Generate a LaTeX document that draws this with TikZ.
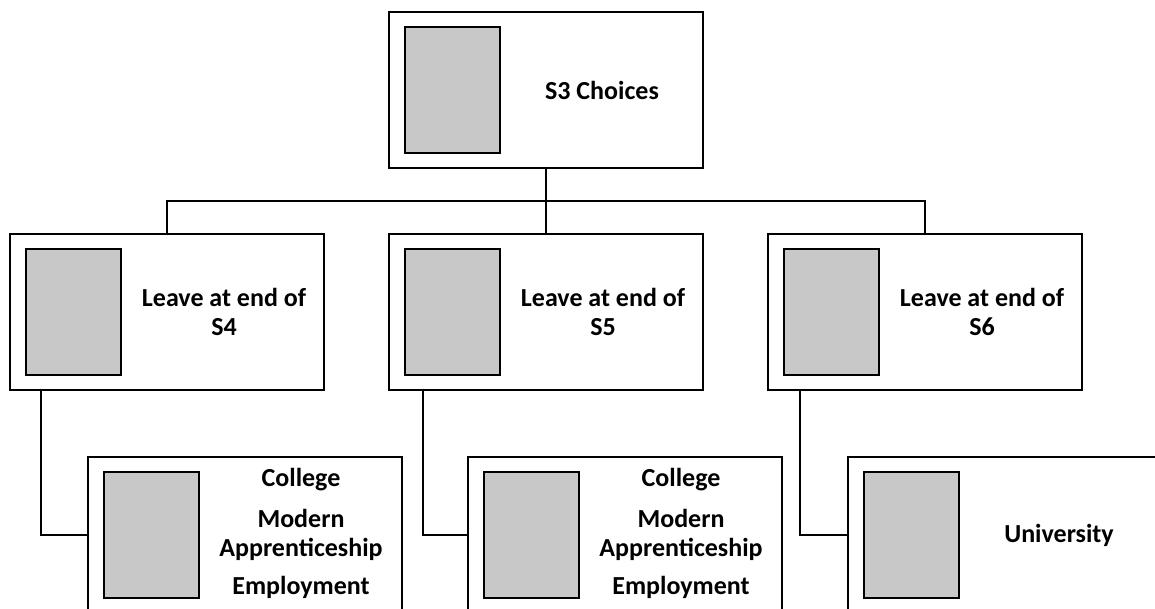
\documentclass[tikz,border=0pt]{standalone}
\usepackage{fontspec}
\setmainfont{Carlito}
\usetikzlibrary{positioning,calc}
\definecolor{photogrey}{RGB}{200,200,200}

\begin{document}
\begin{tikzpicture}[x=1pt, y=-1pt, line width=2pt,
    box/.style={draw, minimum width=314pt, minimum height=156pt, inner sep=0pt},
    photo/.style={draw, fill=photogrey, minimum width=95pt, minimum height=126pt, inner sep=0pt},
    boxtext/.style={font=\bfseries\fontsize{26}{29}\selectfont, align=center, inner sep=0pt}]
        \useasboundingbox (0,0) rectangle (1155,609);
        \clip (0,0) rectangle (1155,609);

        % S3 (top)
        \node[box] (s3) at (546,90) {};
        \node[photo, right=16pt of s3.west] (s3photo) {};
        \node[boxtext] (s3text) at ($(s3.west)+(214,0)$) {S3 Choices};

        % leave after S4, S5, S6 (middle row)
        \node[box] (s4) at (167,312) {};
        \node[photo, right=16pt of s4.west] (s4photo) {};
        \node[boxtext] (s4text) at ($(s4.west)+(215,0)$) {Leave at end of\\S4};

        \node[box] (s5) at (546,312) {};
        \node[photo, right=16pt of s5.west] (s5photo) {};
        \node[boxtext] (s5text) at ($(s5.west)+(215,0)$) {Leave at end of\\S5};

        \node[box] (s6) at (925,312) {};
        \node[photo, right=16pt of s6.west] (s6photo) {};
        \node[boxtext] (s6text) at ($(s6.west)+(215,0)$) {Leave at end of\\S6};

        % destinations (bottom row, cut off by the page)
        \node[box] (b4) at (245,535) {};
        \node[photo, right=16pt of b4.west] (b4photo) {};
        \node[boxtext] (b4text) at ($(b4.west)+(214,-2)$) {College\\[12pt]Modern\\Apprenticeship\\[9pt]Employment};

        \node[box] (b5) at (625,535) {};
        \node[photo, right=16pt of b5.west] (b5photo) {};
        \node[boxtext] (b5text) at ($(b5.west)+(214,-2)$) {College\\[12pt]Modern\\Apprenticeship\\[9pt]Employment};

        \node[box] (b6) at (1005,535) {};
        \node[photo, right=16pt of b6.west] (b6photo) {};
        \node[boxtext] (b6text) at ($(b6.west)+(212,0)$) {University};

        % S3 -> middle row
        \draw (s3.south) -- ++(0,32) coordinate (split);
        \draw (split) -| (s4.north);
        \draw (split) -| (s6.north);
        \draw (split) -- (s5.north);

        % middle row -> bottom row
        \draw ($(s4.south west)+(32,0)$) |- (b4.west);
        \draw ($(s5.south west)+(35,0)$) |- (b5.west);
        \draw ($(s6.south west)+(33,0)$) |- (b6.west);

    \end{tikzpicture}
\end{document}
